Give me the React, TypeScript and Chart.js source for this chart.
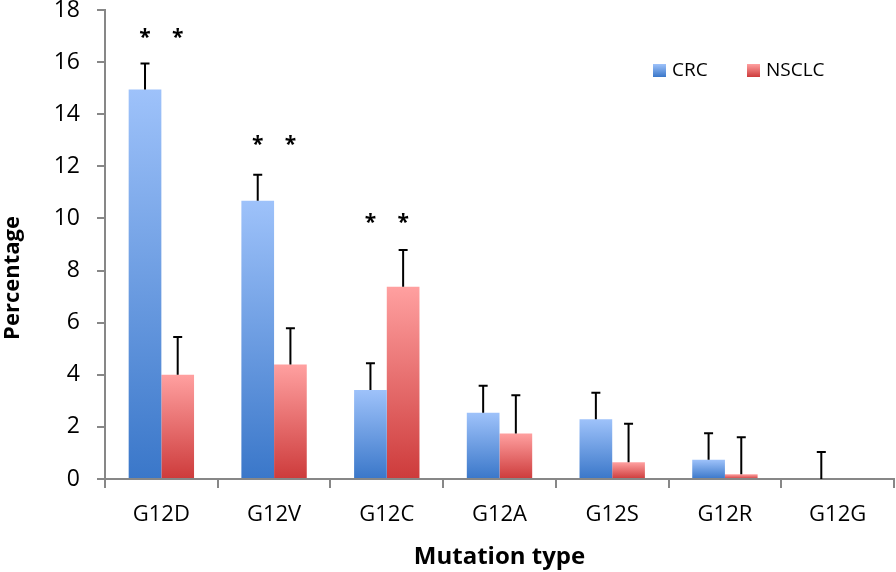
import React, { useEffect, useRef } from 'react';
import { Chart, registerables } from 'chart.js';

Chart.register(...registerables);

const categories = ['G12D', 'G12V', 'G12C', 'G12A', 'G12S', 'G12R', 'G12G'];
const crcValues = [14.95, 10.68, 3.42, 2.54, 2.29, 0.74, 0];
const crcErrors = [1.0, 1.0, 1.02, 1.04, 1.02, 1.02, 1.04];
const nsclcValues = [4.0, 4.39, 7.38, 1.75, 0.64, 0.18, 0];
const nsclcErrors = [1.45, 1.4, 1.41, 1.46, 1.48, 1.42, null];
const asteriskLevels = [17.15, 13.05, 10.05, null, null, null, null];
const seriesNames = ['CRC', 'NSCLC'];
const yMin = 0;
const yMax = 18;
const yStep = 2;

const FONT = '"Open Sans", "DejaVu Sans", sans-serif';
const AXIS_GRAY = '#878787';

const palettes = [
  { top: '#9ec2fa', bottom: '#3a77c9' },
  { top: '#ffa0a0', bottom: '#cd3b3b' },
];

function gradientFill(dsIndex: number) {
  return (ctx: any) => {
    const pal = palettes[dsIndex];
    const chart = ctx.chart;
    const scales = chart.scales;
    if (!scales || !scales.y || ctx.type !== 'data') return pal.top;
    const v = ctx.raw as number;
    const top = scales.y.getPixelForValue(v);
    const bottom = scales.y.getPixelForValue(0);
    if (!isFinite(top) || !isFinite(bottom) || bottom - top < 1) return pal.bottom;
    const g = chart.ctx.createLinearGradient(0, top, 0, bottom);
    g.addColorStop(0, pal.top);
    g.addColorStop(1, pal.bottom);
    return g;
  };
}

const overlayPlugin = {
  id: 'overlay',
  afterDatasetsDraw(chart: any) {
    const ctx = chart.ctx;
    const yScale = chart.scales.y;
    // error bars
    chart.data.datasets.forEach((ds: any, di: number) => {
      const meta = chart.getDatasetMeta(di);
      meta.data.forEach((el: any, i: number) => {
        const err = ds.errors[i];
        if (err == null) return;
        const v = ds.data[i];
        const yTop = yScale.getPixelForValue(v + err);
        const yBase = yScale.getPixelForValue(v);
        ctx.save();
        ctx.strokeStyle = '#000';
        ctx.lineWidth = 2;
        ctx.beginPath();
        ctx.moveTo(el.x, yBase);
        ctx.lineTo(el.x, yTop);
        ctx.moveTo(el.x - 4.5, yTop);
        ctx.lineTo(el.x + 4.5, yTop);
        ctx.stroke();
        ctx.restore();
      });
    });
    // asterisks
    ctx.save();
    ctx.fillStyle = '#000';
    ctx.font = `bold 21px ${FONT}`;
    ctx.textAlign = 'center';
    ctx.textBaseline = 'alphabetic';
    asteriskLevels.forEach((lvl, i) => {
      if (lvl == null) return;
      const y = yScale.getPixelForValue(lvl);
      chart.data.datasets.forEach((_ds: any, di: number) => {
        const el = chart.getDatasetMeta(di).data[i];
        ctx.fillText('*', el.x, y + 12);
      });
    });
    ctx.restore();
  },
  afterDraw(chart: any) {
    const ctx = chart.ctx;
    // y axis title
    ctx.save();
    ctx.translate(13, 278);
    ctx.rotate(-Math.PI / 2);
    ctx.fillStyle = '#000';
    ctx.font = `bold 22px ${FONT}`;
    ctx.textAlign = 'center';
    ctx.textBaseline = 'middle';
    ctx.fillText('Percentage', 0, 0);
    ctx.restore();
    // legend
    const items = [
      { x: 653, label: seriesNames[0], pal: palettes[0] },
      { x: 747, label: seriesNames[1], pal: palettes[1] },
    ];
    ctx.save();
    ctx.font = `19px ${FONT}`;
    ctx.textBaseline = 'middle';
    ctx.textAlign = 'left';
    items.forEach((it) => {
      const g = ctx.createLinearGradient(0, 64, 0, 77);
      g.addColorStop(0, it.pal.top);
      g.addColorStop(1, it.pal.bottom);
      ctx.fillStyle = g;
      ctx.fillRect(it.x, 64, 13, 13);
      ctx.fillStyle = '#000';
      ctx.fillText(it.label, it.x + 19, 71);
    });
    ctx.restore();
  },
};

export default function App() {
  const ref = useRef<HTMLCanvasElement>(null);

  useEffect(() => {
    if (!ref.current) return;
    const chart = new Chart(ref.current, {
      type: 'bar',
      data: {
        labels: categories,
        datasets: [
          {
            label: seriesNames[0],
            data: crcValues,
            errors: crcErrors,
            backgroundColor: gradientFill(0),
            borderWidth: 0,
            categoryPercentage: 0.58,
            barPercentage: 1,
          } as any,
          {
            label: seriesNames[1],
            data: nsclcValues,
            errors: nsclcErrors,
            backgroundColor: gradientFill(1),
            borderWidth: 0,
            categoryPercentage: 0.58,
            barPercentage: 1,
          } as any,
        ],
      },
      options: {
        responsive: false,
        animation: false,
        layout: { padding: { top: 10, right: 2, left: 0, bottom: 0 } },
        plugins: {
          legend: { display: false },
          tooltip: { enabled: false },
        },
        scales: {
          x: {
            offset: true,
            grid: {
              display: true,
              offset: true,
              drawOnChartArea: false,
              drawTicks: true,
              tickLength: 9,
              tickColor: AXIS_GRAY,
              lineWidth: 2,
            },
            border: { display: true, color: AXIS_GRAY, width: 2 },
            ticks: {
              color: '#000',
              padding: 14,
              font: { family: FONT, size: 22 },
              maxRotation: 0,
            },
            title: {
              display: true,
              text: 'Mutation type',
              color: '#000',
              font: { family: FONT, size: 24, weight: 'bold' },
              padding: { top: 0, bottom: 0 },
            },
            afterFit(scale: any) {
              scale.height = 93;
              scale.paddingLeft = 0;
              scale.paddingRight = 0;
            },
          },
          y: {
            min: yMin,
            max: yMax,
            grid: {
              display: true,
              drawOnChartArea: false,
              drawTicks: true,
              tickLength: 8,
              tickColor: AXIS_GRAY,
              lineWidth: 2,
            },
            border: { display: true, color: AXIS_GRAY, width: 2 },
            ticks: {
              stepSize: yStep,
              color: '#000',
              padding: 17,
              font: { family: FONT, size: 23 },
            },
            afterFit(scale: any) {
              scale.width = 105;
              scale.paddingTop = 0;
              scale.paddingBottom = 0;
            },
          },
        },
      } as any,
      plugins: [overlayPlugin],
    });
    return () => chart.destroy();
  }, []);

  return (
    <div style={{ position: 'absolute', left: 0, top: 0, width: 896, height: 572, background: '#fff' }}>
      <canvas ref={ref} width={896} height={572} style={{ display: 'block' }} />
    </div>
  );
}
